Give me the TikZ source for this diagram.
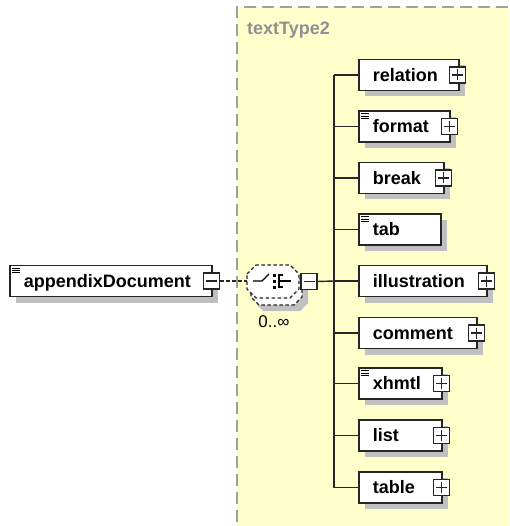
\documentclass[tikz,border=0pt]{standalone}
\usepackage{fontspec}
\setmainfont{Liberation Sans}
\usetikzlibrary{shadows}
\definecolor{typeyellow}{HTML}{FFFFCC}
\definecolor{shadowgrey}{HTML}{C0C0C0}
\definecolor{typeborder}{HTML}{A0A0A0}
\definecolor{typetext}{HTML}{909090}
\newcommand{\elemfont}{\fontsize{18}{20}\selectfont\bfseries}
\newcommand{\docicon}[1]{%
  \draw[line width=0.8pt] ([xshift=3pt,yshift=-3.5pt]#1.north west) -- ++(8,0);
  \draw[line width=0.8pt] ([xshift=3pt,yshift=-5.7pt]#1.north west) -- ++(8,0);
  \draw[line width=0.8pt] ([xshift=3pt,yshift=-7.9pt]#1.north west) -- ++(8,0);}
\begin{document}
\begin{tikzpicture}[x=1pt,y=-1pt,
  elem/.style={draw=black!85, line width=1.5pt, fill=white, minimum height=31pt,
    inner xsep=14pt, inner ysep=0pt, anchor=west, align=left, text width=#1,
    text height=13.5pt, text depth=1pt, font=\elemfont,
    general shadow={fill=shadowgrey, shadow xshift=6pt, shadow yshift=-6pt}},
  expbox/.style={draw=black!85, line width=1.1pt, fill=white, minimum size=16pt, inner sep=0pt},
  plusbox/.style={expbox, path picture={
    \draw[line width=1.1pt] ([xshift=2.5pt]path picture bounding box.west) -- ([xshift=-2.5pt]path picture bounding box.east);
    \draw[line width=1.1pt] ([yshift=-2.5pt]path picture bounding box.north) -- ([yshift=2.5pt]path picture bounding box.south);}},
  minusbox/.style={expbox, path picture={
    \draw[line width=1.1pt] ([xshift=2.5pt]path picture bounding box.west) -- ([xshift=-2.5pt]path picture bounding box.east);}},
  conn/.style={draw=black!85, line width=1.4pt},
  dconn/.style={draw=black!85, line width=1.2pt, dash pattern=on 3.5pt off 2.5pt},
  typelabel/.style={font=\fontsize{18}{20}\selectfont\bfseries, text=typetext, inner sep=0pt, anchor=west}
]
\useasboundingbox (0,0) rectangle (509,526);
\clip (0,0) rectangle (509,526);
% complex type area
\fill[typeyellow] (237,7) rectangle (530,540);
\draw[typeborder, line width=1.5pt, dash pattern=on 12pt off 6pt] (237,540) -- (237,7) -- (530,7);
\node[typelabel] (tt) at (247,30) {textType2};

% root element
\node[elem=174pt] (app) at (9,281) {appendixDocument};
\docicon{app}
\node[minusbox] (appm) at ([xshift=-1pt]app.east) {};

% sequence compositor (stacked)
\fill[shadowgrey] (259,278) -- (300,278) -- (308,286) -- (308,303) -- (300,311) -- (263,311) -- (257,305) -- cycle;
\draw[dconn, fill=white] (251,281) -- (259,273) -- (294,273) -- (302,281) -- (302,297) -- (294,305) -- (259,305) -- (251,297) -- cycle;
\draw[dconn, fill=white] (247,274) -- (256,265) -- (290,265) -- (299,274) -- (299,289) -- (290,298) -- (256,298) -- (247,289) -- cycle;
\coordinate (seqL) at (247,281);
% sequence symbol
\draw[line width=1.3pt] (253,281) -- (262,281) -- (269,274);
\fill (272.5,273.5) rectangle (275.5,276.5);
\fill (272.5,279.5) rectangle (275.5,282.5);
\fill (272.5,285.5) rectangle (275.5,288.5);
\draw[line width=1.3pt] (283,275) -- (279,275) -- (279,287) -- (283,287);
\draw[line width=1.3pt] (279,281) -- (291,281);
\node[minusbox] (seqm) at (309,281.5) {};
\node[font=\fontsize{17}{19}\selectfont, inner sep=0pt] (occ) at (274,322) {0..∞};

\draw[dconn] (appm.east) -- (seqL);

% children
\node[elem=72pt] (relation) at (358,75) {relation};
\node[plusbox] (relationx) at ([xshift=-2pt]relation.east) {};
\node[elem=63pt] (format) at (358,126.5) {format};
\docicon{format}
\node[plusbox] (formatx) at ([xshift=-1pt]format.east) {};
\node[elem=57pt] (break) at (358,178) {break};
\node[plusbox] (breakx) at ([xshift=-1pt]break.east) {};
\node[elem=54pt] (tab) at (358,229.5) {tab};
\docicon{tab}
\node[elem=100pt] (illustration) at (358,281) {illustration};
\node[plusbox] (illustrationx) at ([xshift=-1pt]illustration.east) {};
\node[elem=90pt] (comment) at (358,333) {comment};
\node[plusbox] (commentx) at ([xshift=-1pt]comment.east) {};
\node[elem=55pt] (xhmtl) at (358,383.5) {xhmtl};
\docicon{xhmtl}
\node[plusbox] (xhmtlx) at ([xshift=-1pt]xhmtl.east) {};
\node[elem=55pt] (list) at (358,435.5) {list};
\node[plusbox] (listx) at ([xshift=-1pt]list.east) {};
\node[elem=55pt] (table) at (358,487.5) {table};
\node[plusbox] (tablex) at ([xshift=-1pt]table.east) {};

% connectors
\coordinate (bus) at (334,281);
\draw[conn] (seqm.east) -- (bus);
\draw[conn] (bus |- relation.west) -- (bus |- table.west);
\foreach \n in {relation,format,break,tab,illustration,comment,xhmtl,list,table}
  \draw[conn] (bus |- \n.west) -- (\n.west);
\end{tikzpicture}
\end{document}
